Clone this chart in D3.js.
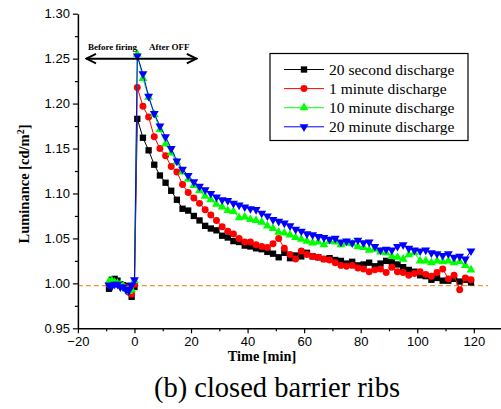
<!DOCTYPE html>
<html>
<head>
<meta charset="utf-8">
<script src="https://d3js.org/d3.v7.min.js"></script>
<style>
  body { margin: 0; background: #fff; }
  svg text { fill: #000; }
  .serif { font-family: "Liberation Serif", "Times New Roman", "DejaVu Serif", serif; }
</style>
</head>
<body>
<div id="chart"></div>
<script>
const width = 501, height = 409;

// time axis shared by all series (min)
const times = [-9, -8, -7, -6, -5, -4, -3, -2, -1, 0,
  1, 3, 5, 7, 9, 11, 13, 15, 17, 19, 21, 23, 25, 27, 29, 31, 33, 35, 37, 39,
  41, 43, 45, 47, 49, 51, 53, 55, 57, 59, 61, 63, 65, 67, 69, 71, 73, 75, 77, 79,
  81, 83, 85, 87, 89, 91, 93, 95, 97, 99, 101, 103, 105, 107, 109, 111, 113, 115, 117, 119];

const sec20 = [0.994, 1.004, 1.005, 1.003, 0.999, 0.998, 0.997, 0.995, 0.985, 0.996,
  1.183, 1.162, 1.148, 1.132, 1.120, 1.112, 1.103, 1.093, 1.083, 1.081, 1.075, 1.070, 1.064, 1.061, 1.059, 1.053, 1.051, 1.047, 1.046, 1.042,
  1.041, 1.039, 1.038, 1.035, 1.033, 1.029, 1.034, 1.028, 1.031, 1.030, 1.034, 1.030, 1.029, 1.027, 1.028, 1.026, 1.025, 1.022, 1.024, 1.020,
  1.021, 1.023, 1.019, 1.022, 1.025, 1.024, 1.021, 1.018, 1.015, 1.013, 1.009, 1.008, 1.004, 1.006, 1.003, 1.003, 1.005, 1.002, 1.004, 1.001];

const min1 = [0.999, 1.002, 1.000, 0.999, 0.998, 0.997, 0.995, 0.990, 0.988, 0.999,
  1.218, 1.197, 1.185, 1.163, 1.150, 1.142, 1.130, 1.124, 1.110, 1.101, 1.095, 1.089, 1.082, 1.076, 1.070, 1.063, 1.058, 1.055, 1.050, 1.046,
  1.046, 1.043, 1.041, 1.040, 1.044, 1.050, 1.039, 1.032, 1.027, 1.036, 1.032, 1.030, 1.029, 1.027, 1.026, 1.023, 1.020, 1.019, 1.020, 1.017,
  1.016, 1.013, 1.015, 1.016, 1.012, 1.018, 1.013, 1.012, 1.009, 1.011, 1.013, 1.010, 1.008, 1.012, 1.016, 1.005, 1.009, 0.993, 1.006, 1.004];

const min10 = [1.002, 1.003, 1.001, 1.000, 0.999, 0.997, 0.994, 0.991, 0.993, 1.003,
  1.255, 1.228, 1.207, 1.188, 1.171, 1.155, 1.145, 1.135, 1.124, 1.116, 1.109, 1.103, 1.097, 1.093, 1.088, 1.085, 1.081, 1.080, 1.073, 1.074,
  1.071, 1.070, 1.068, 1.064, 1.061, 1.057, 1.056, 1.054, 1.051, 1.049, 1.047, 1.045, 1.046, 1.043, 1.047, 1.046, 1.043, 1.045, 1.044, 1.041,
  1.040, 1.037, 1.038, 1.035, 1.034, 1.030, 1.029, 1.027, 1.032, 1.034, 1.025, 1.025, 1.023, 1.025, 1.024, 1.025, 1.023, 1.024, 1.020, 1.015];

const min20 = [0.998, 0.997, 0.999, 0.999, 0.996, 0.996, 0.993, 0.992, 0.998, 1.004,
  1.253, 1.233, 1.208, 1.189, 1.175, 1.163, 1.150, 1.136, 1.127, 1.120, 1.113, 1.108, 1.104, 1.100, 1.096, 1.093, 1.092, 1.089, 1.087, 1.085,
  1.083, 1.082, 1.078, 1.075, 1.071, 1.069, 1.067, 1.064, 1.060, 1.058, 1.055, 1.054, 1.052, 1.051, 1.049, 1.050, 1.046, 1.047, 1.045, 1.048,
  1.045, 1.046, 1.041, 1.037, 1.038, 1.037, 1.041, 1.043, 1.039, 1.037, 1.036, 1.037, 1.034, 1.033, 1.031, 1.033, 1.029, 1.030, 1.027, 1.036];

const seriesNames = ["20 second discharge", "1 minute discharge", "10 minute discharge", "20 minute discharge"];
const seriesColors = ["#000000", "#ff0000", "#00ff00", "#0000ff"];
const seriesValues = [sec20, min1, min10, min20];

const yTicks = [0.95, 1.00, 1.05, 1.10, 1.15, 1.20, 1.25, 1.30];
const xTicks = [-20, 0, 20, 40, 60, 80, 100, 120];
const baseline = 0.9975;

const x = d3.scaleLinear().domain([-20, 130]).range([77.9, 502.1]);
const y = d3.scaleLinear().domain([0.95, 1.30]).range([328.3, 13.7]);

const svg = d3.select("#chart").append("svg")
  .attr("width", width).attr("height", height);

// dashed reference line
svg.append("line")
  .attr("x1", x(-20)).attr("x2", x(125))
  .attr("y1", y(baseline)).attr("y2", y(baseline))
  .attr("stroke", "#f39237").attr("stroke-width", 1.3)
  .attr("stroke-dasharray", "5,3");

const symbols = [
  d3.symbol().type(d3.symbolSquare).size(40),
  d3.symbol().type(d3.symbolCircle).size(38),
  d3.symbol().type(d3.symbolTriangle).size(34),
  d3.symbol().type(d3.symbolTriangle).size(34)
];

const line = d3.line().x(d => x(d[0])).y(d => y(d[1]));

seriesValues.forEach((vals, i) => {
  const pts = times.map((t, j) => [t, vals[j]]);
  svg.append("path")
    .attr("d", line(pts))
    .attr("fill", "none")
    .attr("stroke", seriesColors[i])
    .attr("stroke-width", 1);
  svg.append("g").selectAll("path")
    .data(pts)
    .enter().append("path")
    .attr("d", symbols[i])
    .attr("transform", d => "translate(" + x(d[0]) + "," + y(d[1]) + ")" + (i === 3 ? " rotate(180)" : ""))
    .attr("fill", seriesColors[i]);
});

// axes
const yAxis = svg.append("g")
  .attr("transform", "translate(" + x(-20) + ",0)")
  .call(d3.axisLeft(y).tickValues(yTicks).tickFormat(d3.format(".2f")).tickSize(5).tickSizeOuter(0));
svg.append("g")
  .attr("transform", "translate(" + x(-20) + ",0)")
  .call(d3.axisLeft(y).tickValues(yTicks.slice(0, -1).map(v => v + 0.025)).tickFormat("").tickSize(3).tickSizeOuter(0))
  .select(".domain").remove();

const xAxis = svg.append("g")
  .attr("transform", "translate(0," + y(0.95) + ")")
  .call(d3.axisBottom(x).tickValues(xTicks).tickSize(5).tickSizeOuter(0));
svg.append("g")
  .attr("transform", "translate(0," + y(0.95) + ")")
  .call(d3.axisBottom(x).tickValues(xTicks.map(v => v + 10)).tickFormat("").tickSize(3).tickSizeOuter(0))
  .select(".domain").remove();

svg.selectAll(".domain").attr("stroke-width", 1.5);
svg.selectAll(".tick line").attr("stroke-width", 1.2);
svg.selectAll(".tick text")
  .attr("font-family", "Liberation Sans, Arial, sans-serif")
  .attr("font-size", 13);
yAxis.selectAll(".tick text").attr("x", -8);
xAxis.selectAll(".tick text").attr("y", 8);

// axis titles
svg.append("text")
  .attr("class", "serif")
  .attr("x", 262).attr("y", 361)
  .attr("text-anchor", "middle")
  .attr("font-size", 14.3).attr("font-weight", "bold")
  .text("Time [min]");

const yl = svg.append("text")
  .attr("class", "serif")
  .attr("transform", "translate(29,184) rotate(-90)")
  .attr("text-anchor", "middle")
  .attr("font-size", 14.5).attr("font-weight", "bold");
yl.append("tspan").text("Luminance [cd/m");
yl.append("tspan").attr("dy", -5.5).attr("font-size", 10).text("2");
yl.append("tspan").attr("dy", 5.5).text("]");

svg.append("text")
  .attr("class", "serif")
  .attr("x", 277).attr("y", 397)
  .attr("text-anchor", "middle")
  .attr("font-size", 28.5)
  .text("(b) closed barrier ribs");

// before / after arrow
svg.append("defs").selectAll("marker")
  .data(["arrEnd", "arrStart"])
  .enter().append("marker")
  .attr("id", d => d)
  .attr("viewBox", "0 0 10 10")
  .attr("refX", 9).attr("refY", 5)
  .attr("markerWidth", 6).attr("markerHeight", 6)
  .attr("orient", d => d === "arrEnd" ? "auto" : "auto-start-reverse")
  .append("path")
  .attr("d", "M1,1 L9,5 L1,9")
  .attr("fill", "none").attr("stroke", "#000").attr("stroke-width", 1.6);

svg.append("line")
  .attr("x1", x(-17)).attr("x2", x(21.9))
  .attr("y1", y(1.25)).attr("y2", y(1.25))
  .attr("stroke", "#000").attr("stroke-width", 2)
  .attr("marker-end", "url(#arrEnd)")
  .attr("marker-start", "url(#arrStart)");

svg.append("text")
  .attr("class", "serif")
  .attr("x", 88).attr("y", 50)
  .attr("font-size", 9).attr("font-weight", "bold")
  .text("Before firing");
svg.append("text")
  .attr("class", "serif")
  .attr("x", 149).attr("y", 50)
  .attr("font-size", 9).attr("font-weight", "bold")
  .text("After OFF");

// legend
const legend = svg.append("g");
legend.append("rect")
  .attr("x", 270).attr("y", 53.5).attr("width", 198).attr("height", 87)
  .attr("fill", "#fff").attr("stroke", "#000").attr("stroke-width", 1.2);

seriesNames.forEach((name, i) => {
  const ly = 69.5 + i * 19.1;
  legend.append("line")
    .attr("x1", 284).attr("x2", 324).attr("y1", ly).attr("y2", ly)
    .attr("stroke", seriesColors[i]).attr("stroke-width", 1);
  legend.append("path")
    .attr("d", symbols[i])
    .attr("transform", "translate(304," + ly + ")" + (i === 3 ? " rotate(180)" : ""))
    .attr("fill", seriesColors[i]);
  legend.append("text")
    .attr("class", "serif")
    .attr("x", 329).attr("y", ly + 5)
    .attr("font-size", 15.5)
    .text(name);
});
</script>
</body>
</html>
